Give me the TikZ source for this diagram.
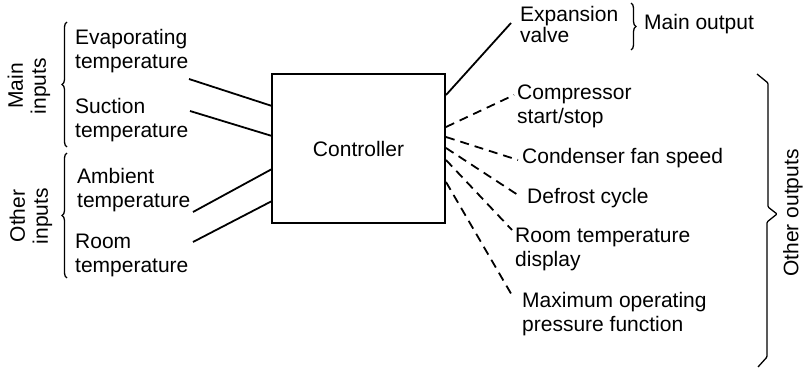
\documentclass[tikz,border=0pt]{standalone}
\usepackage{fontspec}
\setmainfont{Liberation Sans}
\usetikzlibrary{decorations.pathreplacing}
\begin{document}
\begin{tikzpicture}[x=1pt,y=-1pt,
  lbl/.style={anchor=base west,align=left,inner sep=0pt,font=\fontsize{21}{24}\selectfont},
  side/.style={rotate=90,align=center,inner sep=0pt,font=\fontsize{21}{23}\selectfont},
  conn/.style={line width=1.8pt},
  dconn/.style={line width=1.8pt,dash pattern=on 9pt off 6pt},
  brc/.style={line width=1.3pt,decorate,decoration={brace,amplitude=5pt}},
  box/.style={draw,line width=1.8pt,minimum width=173pt,minimum height=149pt,inner sep=0pt,font=\fontsize{21}{24}\selectfont}]
\useasboundingbox (0,0) rectangle (808,369);
% controller
\node[box] (ctrl) at (358.5,148.5) {Controller};
% inputs (anchor = baseline of last line)
\node[lbl] (evap) at (75,68) {Evaporating\\temperature};
\node[lbl] (suct) at (75,137) {Suction\\temperature};
\node[lbl] (amb) at (77,207) {Ambient\\temperature};
\node[lbl] (room) at (75,272) {Room\\temperature};
\node[side] (mainin) at (29,86) {Main\\inputs};
\node[side] (otherin) at (31,216) {Other\\inputs};
\draw[brc] (67,147) -- (67,22);
\draw[brc] (67,278) -- (67,153);
% input connectors
\coordinate (ie) at (189,79);
\coordinate (is) at (190,111);
\coordinate (ia) at (193,212);
\coordinate (ir) at (193,242);
\coordinate (ce) at (272,106);
\coordinate (cs) at (272,136);
\coordinate (ca) at (272,169);
\coordinate (cr) at (272,201);
\draw[conn] (ie) -- (ce);
\draw[conn] (is) -- (cs);
\draw[conn] (ia) -- (ca);
\draw[conn] (ir) -- (cr);
% outputs
\node[lbl,font=\fontsize{21}{21.5}\selectfont] (exp) at (520,43) {Expansion\\valve};
\node[lbl] (comp) at (517,123) {Compressor\\start/stop};
\node[lbl] (cond) at (522,163) {Condenser fan speed};
\node[lbl] (defr) at (527,203) {Defrost cycle};
\node[lbl] (roomd) at (515,266) {Room temperature\\display};
\node[lbl] (maxp) at (522,331) {Maximum operating\\pressure function};
\node[lbl] (mainout) at (644,30) {Main output};
\node[side] (otherout) at (793,213) {Other outputs};
\draw[brc,decoration={brace,amplitude=5pt}] (631,3) -- (631,50);
\draw[line width=1.3pt,rounded corners=1pt] (757,74) -- (768,83) -- (768,207) -- (777,214) -- (767,222) -- (767,357) -- (758,367);
% output connectors
\coordinate (ox) at (446,95);
\coordinate (oc) at (446,127);
\coordinate (on) at (446,137);
\coordinate (od) at (446,148);
\coordinate (or) at (446,160);
\coordinate (om) at (446,182);
\coordinate (tx) at (511,23);
\coordinate (tc) at (514,95);
\coordinate (tn) at (518,160);
\coordinate (td) at (521,197);
\coordinate (tr) at (512,230);
\coordinate (tm) at (513,297);
\draw[conn] (ox) -- (tx);
\draw[dconn] (oc) -- (tc);
\draw[dconn] (on) -- (tn);
\draw[dconn] (od) -- (td);
\draw[dconn] (or) -- (tr);
\draw[dconn] (om) -- (tm);
\end{tikzpicture}
\end{document}
